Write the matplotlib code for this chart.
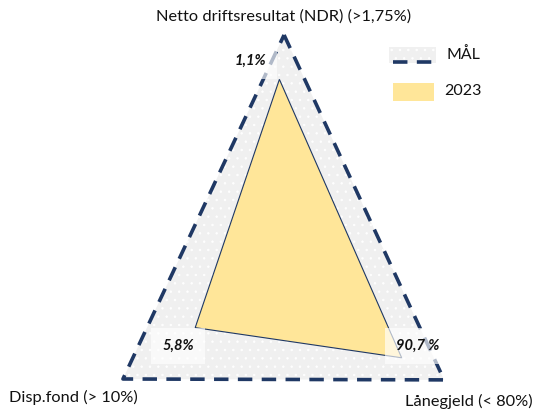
import numpy as np
import matplotlib
matplotlib.use("Agg")
import matplotlib.pyplot as plt
from matplotlib.patches import Polygon, Rectangle

plt.rcParams['font.family'] = ['Lato', 'DejaVu Sans']
plt.rcParams['hatch.linewidth'] = 0.5

# ---- data ----
categories = ['Netto driftsresultat (NDR) (>1,75%)', 'Lånegjeld (< 80%)', 'Disp.fond (> 10%)']
mal_values = [1.0, 1.0, 1.0]            # target, normalised
values_2023 = [0.821, 0.772, 0.465]     # 2023 relative to target
value_labels = ['1,1%', '90,7 %', '5,8%']
series_names = ['MÅL', '2023']

# ---- layout (pixel space) ----
W, H = 535, 415
CENTER = (258.0, 283.0)
AXIS_ANGLE = [84.0, 332.5, 215.4]
AXIS_LEN = [249.4, 209.8, 165.7]
NAVY = '#1f3864'
YELLOW = '#ffe699'
FILL = '#f0f0f0'

fig = plt.figure(figsize=(W / 100, H / 100), dpi=100)
ax = fig.add_axes([0, 0, 1, 1])
ax.set_xlim(0, W)
ax.set_ylim(H, 0)
ax.axis('off')


def to_xy(vals):
    pts = []
    for v, a, L in zip(vals, AXIS_ANGLE, AXIS_LEN):
        r = np.deg2rad(a)
        pts.append((CENTER[0] + v * L * np.cos(r), CENTER[1] - v * L * np.sin(r)))
    return np.array(pts)


mal_pts = to_xy(mal_values)
y_pts = to_xy(values_2023)

# MÅL fill (dotted light grey)
ax.add_patch(Polygon(mal_pts, closed=True, facecolor=FILL, edgecolor='white',
                     hatch='..', linewidth=0, zorder=1))
# 2023
ax.add_patch(Polygon(y_pts, closed=True, facecolor=YELLOW, edgecolor=NAVY,
                     linewidth=0.8, zorder=2))
# MÅL dashed outline
closed = np.vstack([mal_pts, mal_pts[:1]])
ax.plot(closed[:, 0], closed[:, 1], color=NAVY, lw=2.6, linestyle=(0, (4, 2.6)),
        solid_capstyle='butt', dash_capstyle='butt', zorder=3)

# value labels with semi-transparent white boxes
label_pos = [(250, 61), (418, 346), (178, 346)]
for (lx, ly), txt in zip(label_pos, value_labels):
    ax.text(lx, ly, txt, ha='center', va='center', fontsize=10.5, fontweight='bold',
            fontstyle='italic', color='#111111', zorder=5,
            bbox=dict(boxstyle='square,pad=0.75', facecolor='white', edgecolor='none', alpha=0.65))

# category labels
ax.text(284, 17, categories[0], ha='center', va='center', fontsize=11.8, color='#111111')
ax.text(533, 401, categories[1], ha='right', va='center', fontsize=11.8, color='#111111')
ax.text(9, 397, categories[2], ha='left', va='center', fontsize=11.8, color='#111111')

# legend
ax.add_patch(Rectangle((389, 47), 47, 16, facecolor=FILL, edgecolor='white',
                       hatch='..', linewidth=0, zorder=1))
ax.plot([393, 435], [62, 62], color=NAVY, lw=2.6, linestyle=(0, (4, 2.6)),
        dash_capstyle='butt', zorder=3)
ax.text(446, 55, series_names[0], ha='left', va='center', fontsize=11.5, color='#111111')
ax.add_patch(Rectangle((393, 83), 41, 18, facecolor=YELLOW, edgecolor='none', zorder=1))
ax.text(444, 91, series_names[1], ha='left', va='center', fontsize=11.5, color='#111111')

fig.savefig('out.png', dpi=100)
